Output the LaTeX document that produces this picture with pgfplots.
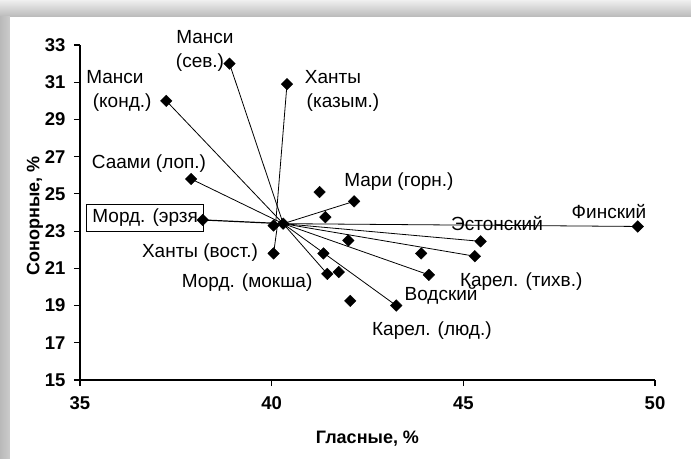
\documentclass[border=0pt]{standalone}
\usepackage{fontspec}
\setmainfont{Liberation Sans}
\usepackage{pgfplots}
\pgfplotsset{compat=1.18}
\begin{document}
\begin{tikzpicture}
% background frame (image px -> pt, axis origin at image (80,380))
\path[use as bounding box] (-80pt,-78pt) rectangle (611pt,380pt);
\fill[gray!45] (-80pt,-78pt) rectangle (611pt,380pt);
\shade[top color=gray!12, bottom color=gray!55] (-80pt,363pt) rectangle (611pt,380pt);
\shade[left color=gray!55, right color=gray!40] (-80pt,-78pt) rectangle (-70pt,363pt);
\fill[white] (-70pt,-78pt) rectangle (611pt,363pt);
\begin{axis}[
  scale only axis, width=575pt, height=335pt,
  xmin=35, xmax=50, ymin=15, ymax=33,
  xtick={35,40,45,50}, ytick={15,17,...,33},
  axis lines*=left,
  axis line style={line width=1.6pt, black},
  tick style={line width=1.2pt, black},
  tick align=outside, major tick length=6pt,
  ticklabel style={font=\bfseries\fontsize{18.5}{20}\selectfont},
  xticklabel style={yshift=-7pt},
  yticklabel style={xshift=-5pt},
  /pgf/number format/assume math mode=true,
  clip=false,
  every axis x label/.style={at={(axis description cs:0.5,0)}, anchor=center, yshift=-59pt},
  every axis y label/.style={at={(axis description cs:0,0.49)}, xshift=-45pt, rotate=90, anchor=center},
  xlabel={\bfseries\fontsize{18}{20}\selectfont Гласные, \%},
  ylabel={\bfseries\fontsize{18}{20}\selectfont Сонорные, \%},
]
% rays from the centre
\addplot[black, line width=0.8pt] coordinates {(40.3,23.4) (38.9,32.0)};
\addplot[black, line width=0.8pt] coordinates {(40.1,23.3) (40.4,30.9)};
\addplot[black, line width=0.8pt] coordinates {(40.3,23.4) (37.25,30.0)};
\addplot[black, line width=0.8pt] coordinates {(40.3,23.4) (37.9,25.8)};
\addplot[black, line width=1.2pt] coordinates {(40.3,23.4) (38.2,23.6)};
\addplot[black, line width=0.8pt] coordinates {(40.15,23.3) (40.05,21.8)};
\addplot[black, line width=0.8pt] coordinates {(40.3,23.4) (42.15,24.6)};
\addplot[black, line width=0.8pt] coordinates {(40.3,23.4) (49.55,23.25)};
\addplot[black, line width=0.8pt] coordinates {(40.3,23.4) (45.45,22.45)};
\addplot[black, line width=0.8pt] coordinates {(40.3,23.4) (45.3,21.65)};
\addplot[black, line width=0.8pt] coordinates {(40.3,23.4) (44.1,20.65)};
\addplot[black, line width=0.8pt] coordinates {(40.3,23.4) (43.25,19.0)};
\addplot[black, line width=0.8pt] coordinates {(40.3,23.4) (41.45,20.7)};
% points
\addplot[only marks, mark=square*, mark size=4.1pt, mark options={rotate=45, fill=black, draw=black}] coordinates {
(38.9,32.0) (40.4,30.9) (37.25,30.0) (37.9,25.8) (38.2,23.6) (40.05,23.3) (40.3,23.4)
(40.05,21.8) (41.25,25.1) (42.15,24.6) (41.4,23.75) (42.0,22.5) (41.35,21.8)
(41.45,20.7) (41.75,20.8) (42.05,19.25) (43.25,19.0) (43.9,21.8) (44.1,20.65)
(45.45,22.45) (45.3,21.65) (49.55,23.25)
};
% labels
\begin{scope}[every node/.style={font=\fontsize{19}{21}\selectfont, inner sep=0pt}]
\node at (axis cs:38.26,33.43) {Манси};
\node at (axis cs:38.13,32.03) {(сев.)};
\node at (axis cs:35.91,31.28) {Манси};
\node at (axis cs:36.10,29.88) {(конд.)};
\node at (axis cs:41.60,31.28) {Ханты};
\node at (axis cs:41.86,29.88) {(казым.)};
\node at (axis cs:36.80,26.61) {Саами (лоп.)};
\node at (axis cs:43.32,25.64) {Мари (горн.)};
\node[draw=black, line width=0.6pt, fill=white, inner xsep=2pt, minimum height=27pt, minimum width=117pt] at (axis cs:36.70,23.70) {Морд. (эрзя};
\node at (axis cs:48.80,24.03) {Финский};
\node at (axis cs:45.88,23.38) {Эстонский};
\node at (axis cs:38.13,21.82) {Ханты (вост.)};
\node at (axis cs:39.36,20.21) {Морд. (мокша)};
\node at (axis cs:46.51,20.27) {Карел. (тихв.)};
\node at (axis cs:44.42,19.57) {Водский};
\node at (axis cs:44.18,17.63) {Карел. (люд.)};
\end{scope}
\end{axis}
\end{tikzpicture}
\end{document}
